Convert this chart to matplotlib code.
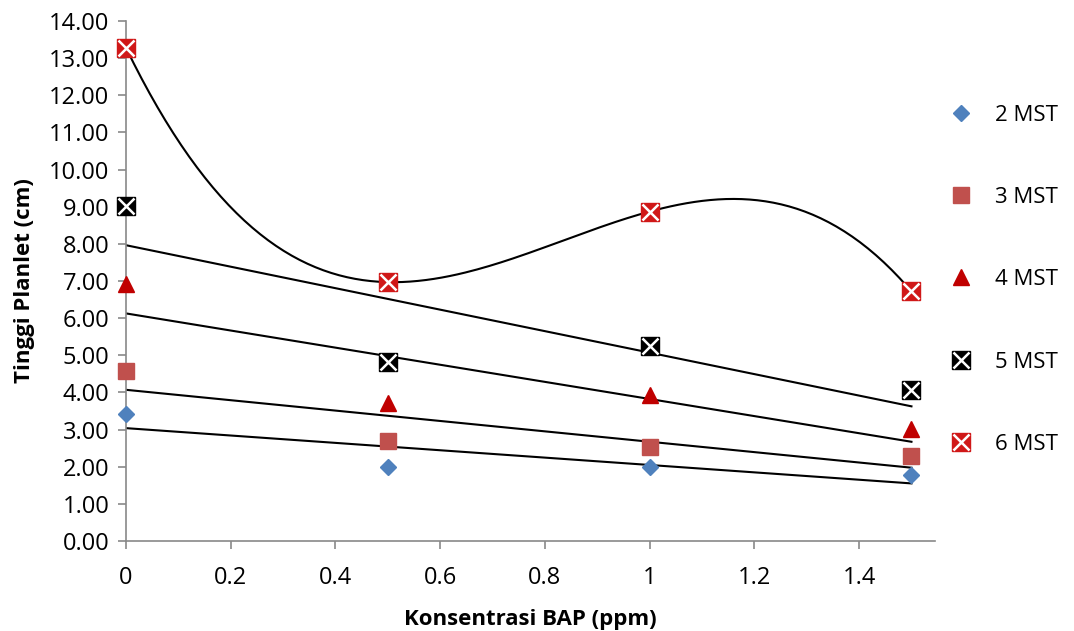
import numpy as np
import matplotlib
matplotlib.use('Agg')
import matplotlib.pyplot as plt
from matplotlib.legend_handler import HandlerTuple

plt.rcParams['font.family'] = ['Open Sans', 'DejaVu Sans']

bap = [0, 0.5, 1, 1.5]
mst2 = [3.43, 1.98, 2.00, 1.77]
mst3 = [4.57, 2.70, 2.52, 2.30]
mst4 = [6.93, 3.72, 3.93, 3.02]
mst5 = [9.03, 4.83, 5.25, 4.07]
mst6 = [13.28, 6.97, 8.87, 6.72]
labels = ['2 MST', '3 MST', '4 MST', '5 MST', '6 MST']

fig = plt.figure(figsize=(10.74, 6.31), dpi=100)
ax = fig.add_axes([0.1173, 0.1426, 0.7533, 0.8241])

xs = np.linspace(0, 1.5, 200)
# linear trendlines for 2-5 MST
for y in [mst2, mst3, mst4, mst5]:
    k = np.polyfit(bap, y, 1)
    ax.plot(xs, np.polyval(k, xs), color='black', lw=1.5, zorder=2)
# 3rd order trendline for 6 MST
k = np.polyfit(bap, mst6, 3)
ax.plot(xs, np.polyval(k, xs), color='black', lw=1.5, zorder=2)

kw = dict(ls='none', clip_on=False)
h2, = ax.plot(bap, mst2, 'D', color='#4F81BD', ms=8.5, zorder=3, **kw)
h3, = ax.plot(bap, mst3, 's', color='#C0504D', ms=12, zorder=3, **kw)
h4, = ax.plot(bap, mst4, '^', color='#C00000', ms=11, zorder=3, **kw)
h5a, = ax.plot(bap, mst5, 's', color='black', ms=13.5, zorder=3, **kw)
h5b, = ax.plot(bap, mst5, 'x', color='white', ms=11, mew=1.8, zorder=4, **kw)
h6a, = ax.plot(bap, mst6, 's', color='#D01818', ms=13.5, zorder=3, **kw)
h6b, = ax.plot(bap, mst6, 'x', color='white', ms=11, mew=1.8, zorder=4, **kw)

ax.set_xlim(0, 1.545)
ax.set_ylim(0, 14)
ax.set_xticks([0, 0.2, 0.4, 0.6, 0.8, 1, 1.2, 1.4])
ax.set_xticklabels(['0', '0.2', '0.4', '0.6', '0.8', '1', '1.2', '1.4'])
ax.set_yticks(np.arange(0, 15, 1))
ax.set_yticklabels(['%.2f' % v for v in np.arange(0, 15, 1)])
ax.tick_params(direction='out', length=6, width=1.2, color='#898989', labelsize=17)
ax.tick_params(axis='x', pad=12)
ax.tick_params(axis='y', pad=6)
for s in ['top', 'right']:
    ax.spines[s].set_visible(False)
for s in ['left', 'bottom']:
    ax.spines[s].set_color('#898989')
    ax.spines[s].set_linewidth(1.2)

ax.set_xlabel('Konsentrasi BAP (ppm)', fontsize=16, fontweight='bold', labelpad=14)
ax.set_ylabel('Tinggi Planlet (cm)', fontsize=16, fontweight='bold', labelpad=10)

fig.legend([h2, h3, h4, (h5a, h5b), (h6a, h6b)], labels,
           handler_map={tuple: HandlerTuple(ndivide=1, pad=0)},
           loc='upper left', bbox_to_anchor=(0.864, 0.866), frameon=False,
           fontsize=16, labelspacing=2.76, handlelength=1.2, handletextpad=0.9)

fig.savefig('out.png', dpi=100)
